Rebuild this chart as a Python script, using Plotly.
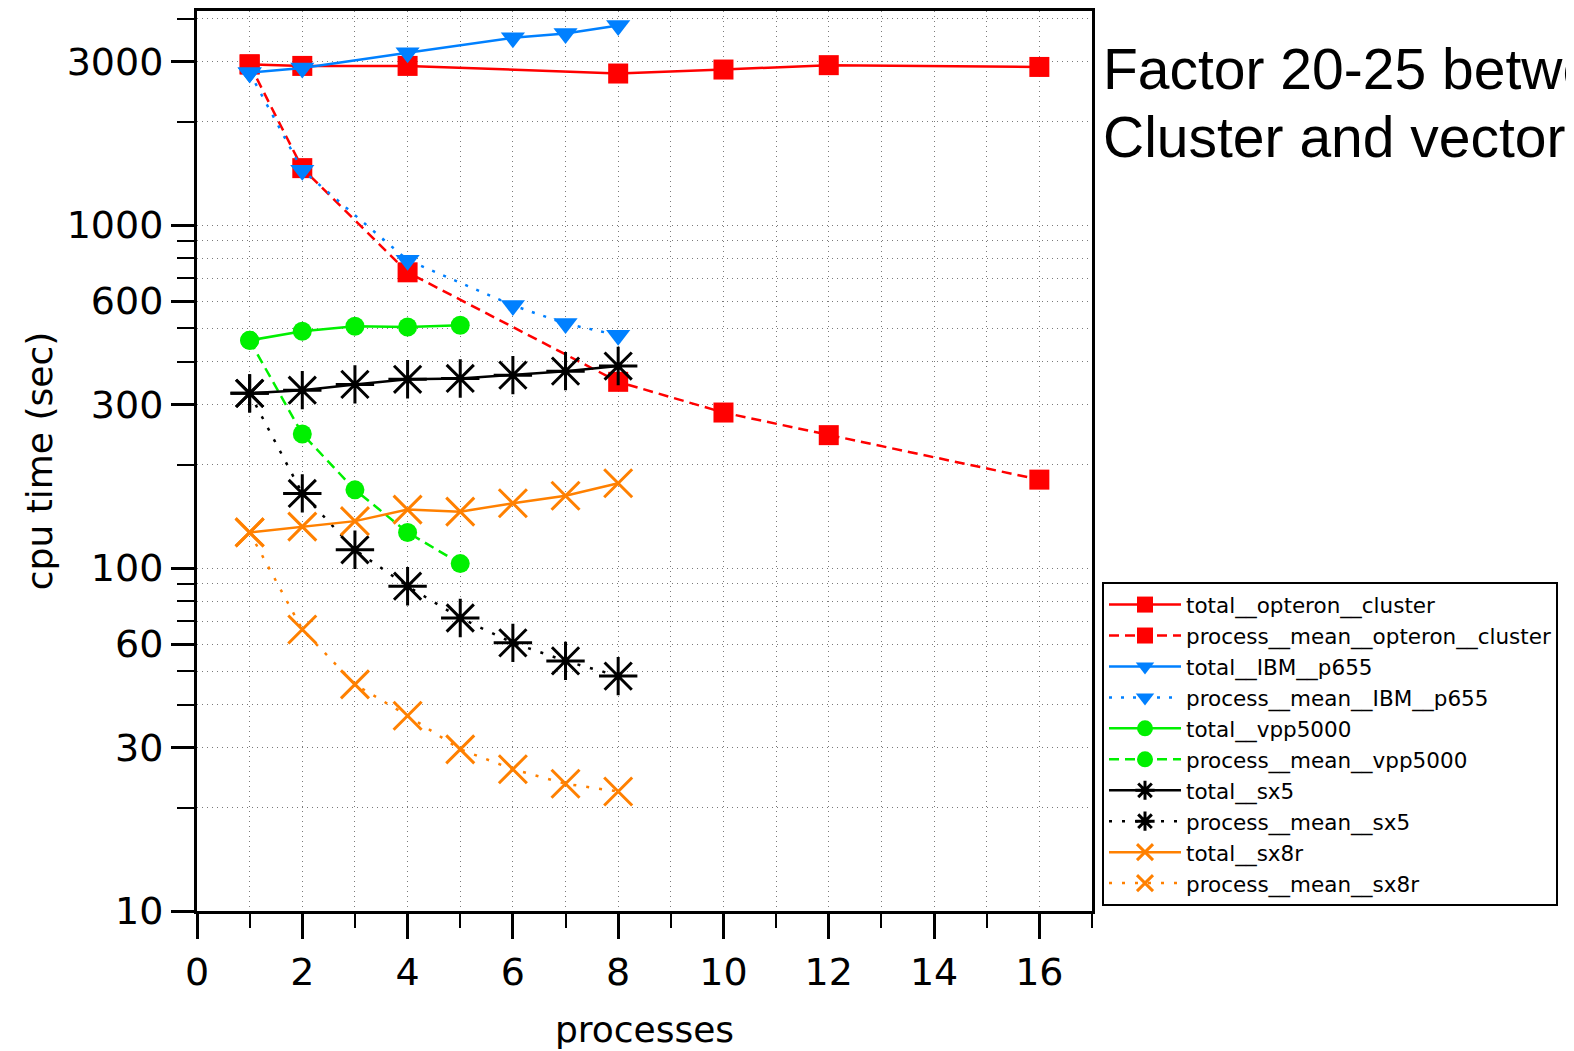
import plotly.graph_objects as go

# ---- data ----
procs_opteron = [1, 2, 4, 8, 10, 12, 16]
total_opteron = [2940, 2910, 2910, 2765, 2840, 2925, 2890]
mean_opteron = [2940, 1465, 728, 349, 284, 244, 181]

procs_ibm = [1, 2, 4, 6, 7, 8]
total_ibm = [2780, 2870, 3180, 3515, 3615, 3815]
mean_ibm = [2780, 1445, 790, 583, 516, 477]

procs_vpp = [1, 2, 3, 4, 5]
total_vpp = [461, 490, 507, 504, 510]
mean_vpp = [461, 246, 169, 127, 103]

procs_sx = [1, 2, 3, 4, 5, 6, 7, 8]
total_sx5 = [323, 330, 343, 355, 357, 365, 375, 388]
mean_sx5 = [323, 165, 113, 88.5, 71.5, 60.5, 53.6, 48.4]
total_sx8r = [127, 132, 137, 148, 146, 154.5, 162.4, 176.6]
mean_sx8r = [127, 66.2, 45.8, 37.1, 29.6, 25.9, 23.5, 22.3]

y_major = [10, 30, 60, 100, 300, 600, 1000, 3000]
y_minor = [20, 40, 50, 70, 80, 90, 200, 400, 500, 700, 800, 900, 2000, 4000]
x_major = [0, 2, 4, 6, 8, 10, 12, 14, 16]
x_minor = [1, 3, 5, 7, 9, 11, 13, 15, 17]

RED = "#FF0000"
BLUE = "#0080FF"
GREEN = "#00F000"
BLACK = "#000000"
ORANGE = "#FF8000"
GRID = "#7a7a7a"

FONT = "DejaVu Sans"

fig = go.Figure()


def add(name, x, y, color, dash, symbol, size, open_sym=False):
    marker = dict(symbol=symbol, size=size, color=color)
    if open_sym:
        marker["line"] = dict(color=color, width=3)
    fig.add_trace(go.Scatter(
        x=x, y=y, name=name, mode="lines+markers",
        line=dict(color=color, width=2.5, dash=dash),
        marker=marker,
    ))


add("total__opteron__cluster", procs_opteron, total_opteron, RED, "solid", "square", 20)
add("process__mean__opteron__cluster", procs_opteron, mean_opteron, RED, "10px,6px", "square", 20)
add("total__IBM__p655", procs_ibm, total_ibm, BLUE, "solid", "triangle-down", 21)
add("process__mean__IBM__p655", procs_ibm, mean_ibm, BLUE, "3px,9px", "triangle-down", 21)
add("total__vpp5000", procs_vpp, total_vpp, GREEN, "solid", "circle", 19)
add("process__mean__vpp5000", procs_vpp, mean_vpp, GREEN, "10px,6px", "circle", 19)
add("total__sx5", procs_sx, total_sx5, BLACK, "solid", "asterisk-open", 32, True)
add("process__mean__sx5", procs_sx, mean_sx5, BLACK, "3px,10px", "asterisk-open", 32, True)
add("total__sx8r", procs_sx, total_sx8r, ORANGE, "solid", "x-thin-open", 28, True)
add("process__mean__sx8r", procs_sx, mean_sx8r, ORANGE, "3px,10px", "x-thin-open", 28, True)

# page body has an 8px margin: compensate so the plot lands where the reference has it
L, T = 189, 0
PW, PH = 895, 903
W, H = 1574, 1051
R = W - L - PW
B = H - T - PH

fig.update_layout(
    width=W, height=H,
    margin=dict(l=L, r=R, t=T, b=B),
    paper_bgcolor="white", plot_bgcolor="white",
    font=dict(family=FONT, color="black", size=36),
    showlegend=True,
    legend=dict(
        x=(1094 - L) / PW, y=(PH + T - 573) / PH, xanchor="left", yanchor="top",
        bordercolor="black", borderwidth=2, bgcolor="white",
        font=dict(family=FONT, size=21.5, color="black"),
        itemwidth=72, tracegroupgap=0,
    ),
    xaxis=dict(
        range=[0, 17], tickmode="array", tickvals=x_major,
        ticks="outside", ticklen=25, tickwidth=3, tickcolor="black",
        showline=True, linewidth=3, linecolor="black", mirror=True,
        showgrid=True, gridcolor=GRID, griddash="1px,4px", gridwidth=1,
        zeroline=False,
        tickfont=dict(family=FONT, size=38),
        title=dict(text="processes", font=dict(family=FONT, size=36), standoff=25),
        minor=dict(tickmode="array", tickvals=x_minor, ticks="outside", ticklen=14,
                   tickwidth=2, tickcolor="black", showgrid=True,
                   gridcolor=GRID, griddash="1px,4px", gridwidth=1),
    ),
    yaxis=dict(
        type="log", range=[1, 3.624], tickmode="array", tickvals=y_major,
        ticktext=[str(v) for v in y_major],
        ticks="outside", ticklen=23, tickwidth=3, tickcolor="black",
        showline=True, linewidth=3, linecolor="black", mirror=True,
        showgrid=True, gridcolor=GRID, griddash="1px,4px", gridwidth=1,
        zeroline=False,
        tickfont=dict(family=FONT, size=38),
        title=dict(text="cpu time (sec)", font=dict(family=FONT, size=36), standoff=4),
        minor=dict(tickmode="array", tickvals=y_minor, ticks="outside", ticklen=17,
                   tickwidth=2, tickcolor="black", showgrid=True,
                   gridcolor=GRID, griddash="1px,4px", gridwidth=1),
    ),
    annotations=[
        dict(text="Factor 20-25 between", xref="paper", yref="paper",
             x=(1093 - L) / PW, y=(PH + T - 58) / PH, xanchor="left", yanchor="middle",
             showarrow=False, font=dict(family="Liberation Sans", size=57, color="black")),
        dict(text="Cluster and vector", xref="paper", yref="paper",
             x=(1093 - L) / PW, y=(PH + T - 126) / PH, xanchor="left", yanchor="middle",
             showarrow=False, font=dict(family="Liberation Sans", size=57, color="black")),
    ],
)

fig.write_html("out.html")
